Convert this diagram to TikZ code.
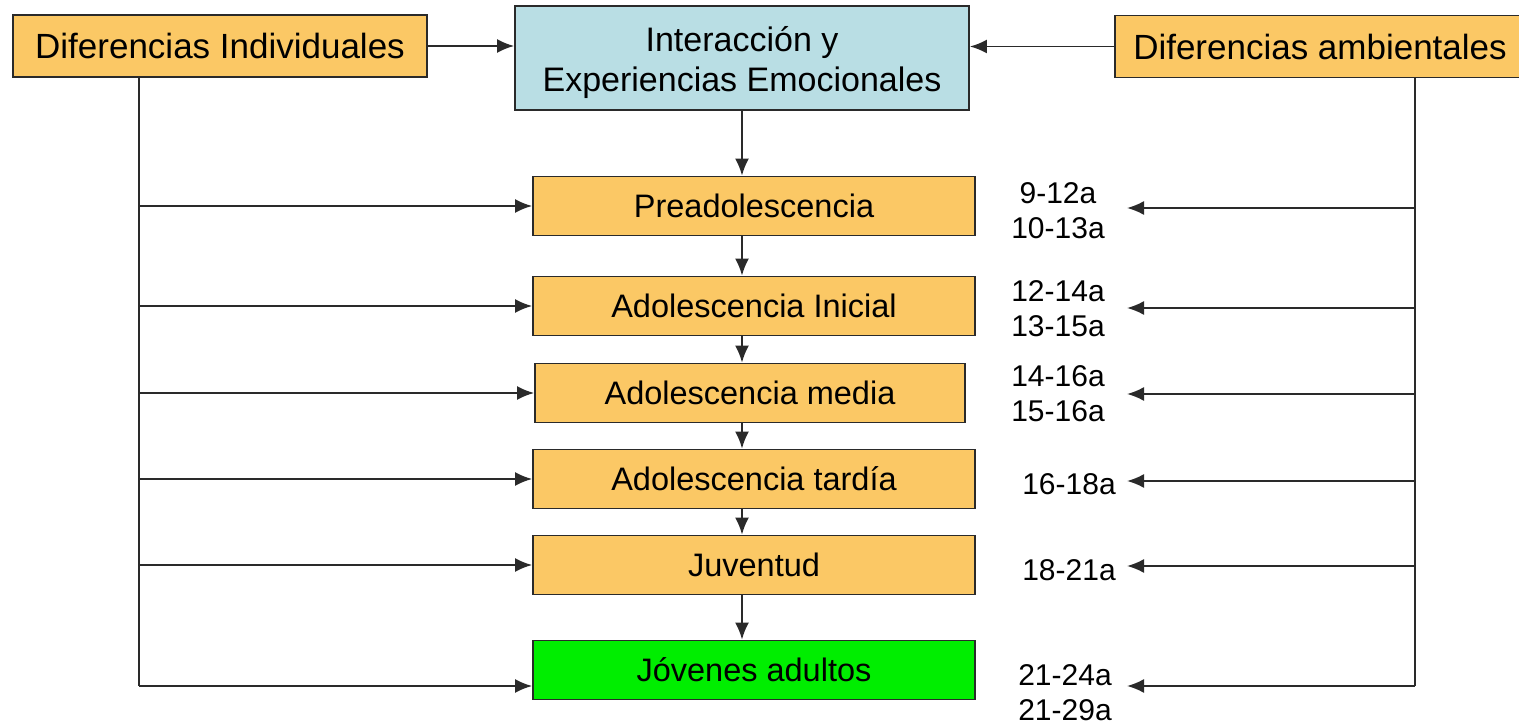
\documentclass[tikz,border=0pt]{standalone}
\usepackage{fontspec}
\setmainfont{Liberation Sans}
\usetikzlibrary{arrows.meta}
\definecolor{boxorange}{HTML}{FBC865}
\definecolor{boxblue}{HTML}{B9DEE4}
\definecolor{boxgreen}{HTML}{00EE00}
\definecolor{linegray}{HTML}{2A2A2A}
\tikzset{
	stage/.style={%
		draw=linegray, line width=1.8pt,
		fill=boxorange,
		minimum width=#1,
		minimum height=59pt,
		inner sep=0pt,
		font=\fontsize{32.5}{36}\selectfont
	},
	stage/.default=442pt,
	factor/.style={stage=#1, minimum height=62pt, font=\fontsize{35}{40}\selectfont},
	age/.style={align=center, inner sep=0pt, font=\fontsize{30}{35}\selectfont},
	tip/.tip={Latex[length=17pt,width=14pt]},
	conn/.style={-tip, draw=linegray, line width=1.9pt},
	spine/.style={draw=linegray, line width=1.9pt}
}
\begin{document}
\begin{tikzpicture}[x=1pt,y=-1pt]
		\useasboundingbox (0,0) rectangle (1519,727);
		
		% Top row
		\node[factor=414pt] (indiv) at (220,46) {Diferencias Individuales};
		\node[factor=454pt, fill=boxblue, minimum height=104pt] (inter) at (742,58) {};
		\node[align=center, font=\fontsize{34}{40}\selectfont] (intertxt) at ([yshift=-5pt]inter.center) {Interacción y\\Experiencias Emocionales};
		\node[factor=410pt] (amb) at (1320,46.5) {Diferencias ambientales};
		
		% Stages
		\node[stage] (pre) at (754,206) {Preadolescencia};
		\node[stage] (ini) at (754,306) {Adolescencia Inicial};
		\node[stage=430pt] (med) at (750,393) {Adolescencia media};
		\node[stage] (tar) at (754,479) {Adolescencia tardía};
		\node[stage] (juv) at (754,565) {Juventud};
		\node[stage, fill=boxgreen] (jov) at (754,670) {Jóvenes adultos};
		
		% Ages
		\node[age] (age1) at (1058,211) {9-12a\\10-13a};
		\node[age] (age2) at (1058,309) {12-14a\\13-15a};
		\node[age] (age3) at (1058,394) {14-16a\\15-16a};
		\node[age] (age4) at (1069,484) {16-18a};
		\node[age] (age5) at (1069,570) {18-21a};
		\node[age] (age6) at (1065,693) {21-24a\\21-29a};
		
		% arrows into the top box
		\draw[conn] (indiv.east) -- (indiv.east -| inter.west);
		\draw[conn] (amb.west) -- (amb.west -| inter.east);
		
		% arrows down the stages
		\foreach \a/\b in {inter/pre,pre/ini,ini/med,med/tar,tar/juv,juv/jov}
			\draw[conn] (\a.south -| inter.south) -- (\b.north -| inter.south);
		
		% left side
		\coordinate (lbot) at (139,686);
		\draw[spine] (indiv.south -| lbot) -- (lbot);
		\foreach \s in {pre,ini,med,tar,juv}
			\draw[conn] (lbot |- \s.west) -- (\s.west);
		\draw[conn] (lbot) -- (lbot -| jov.west);
		
		% right side
		\coordinate (rbot) at (1415,686);
		\draw[spine] (amb.south -| rbot) -- (rbot);
		\coordinate (tip1) at (1127,208);
		\coordinate (tip2) at (1127,308);
		\coordinate (tip3) at (1127,394);
		\coordinate (tip4) at (1127,481);
		\coordinate (tip5) at (1127,566);
		\coordinate (tip6) at (1127,686);
		\foreach \n in {1,...,6}
			\draw[conn] (rbot |- tip\n) -- (tip\n);
		
\end{tikzpicture}
\end{document}
